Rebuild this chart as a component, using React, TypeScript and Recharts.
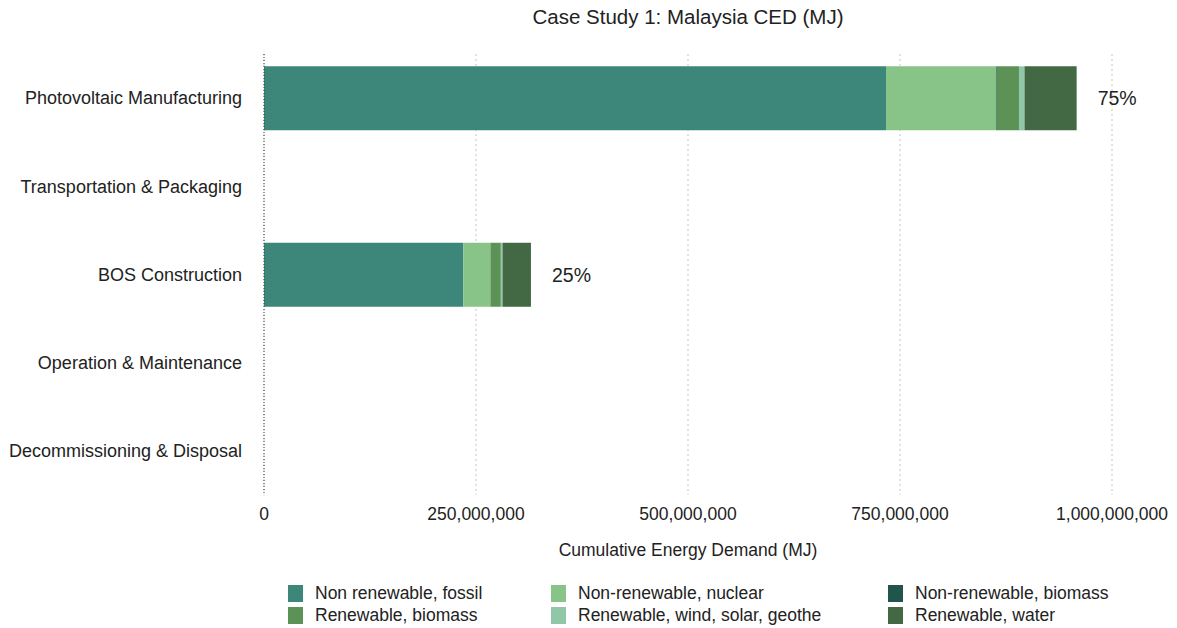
import React from 'react';
import {
    BarChart,
    Bar,
    XAxis,
    YAxis,
    CartesianGrid,
    LabelList
} from 'recharts';

const categories = [
    'Photovoltaic Manufacturing',
    'Transportation & Packaging',
    'BOS Construction',
    'Operation & Maintenance',
    'Decommissioning & Disposal'
];

const fossil = [733500000, 0, 235000000, 0, 0];
const nuclear = [130000000, 0, 32000000, 0, 0];
const nrBiomass = [800000, 0, 300000, 0, 0];
const rBiomass = [26000000, 0, 12000000, 0, 0];
const windSolarGeo = [6500000, 0, 2000000, 0, 0];
const water = [61500000, 0, 33500000, 0, 0];
const shares = ['75%', '', '25%', '', ''];

const xTicks = [0, 250000000, 500000000, 750000000, 1000000000];

const series = [
    { key: 'fossil', name: 'Non renewable, fossil', color: '#3c877a', values: fossil },
    { key: 'nuclear', name: 'Non-renewable, nuclear', color: '#88c388', values: nuclear },
    { key: 'nrBiomass', name: 'Non-renewable, biomass', color: '#21544b', values: nrBiomass },
    { key: 'rBiomass', name: 'Renewable, biomass', color: '#5d9256', values: rBiomass },
    { key: 'wind', name: 'Renewable, wind, solar, geothe', color: '#90c7a9', values: windSolarGeo },
    { key: 'water', name: 'Renewable, water', color: '#426844', values: water }
];

const data = categories.map((name, i) => {
    const row: Record<string, string | number> = { name, share: shares[i] };
    series.forEach(s => { row[s.key] = s.values[i]; });
    return row;
});

const font = '"Liberation Sans", Arial, Helvetica, sans-serif';

const App: React.FC = () => {
    return (
        <div style={{ position: 'relative', width: 1177, height: 628, fontFamily: font, background: '#fff' }}>
            <style>{`body{margin:0}`}</style>
            <div style={{ position: 'absolute', left: 264, width: 848, top: 5, textAlign: 'center', fontSize: 20.5, color: '#222' }}>
                Case Study 1: Malaysia CED (MJ)
            </div>
            <BarChart
                layout="vertical"
                width={1177}
                height={628}
                data={data}
                barCategoryGap="14%"
                margin={{ top: 54, right: 65, bottom: 0, left: 0 }}
                style={{ fontFamily: font }}
            >
                <CartesianGrid horizontal={false} stroke="#c4c4c4" strokeDasharray="2 3" />
                <XAxis
                    type="number"
                    domain={[0, 1000000000]}
                    ticks={xTicks}
                    tickFormatter={(v: number) => v.toLocaleString('en-US')}
                    axisLine={false}
                    tickLine={false}
                    tick={{ fontSize: 17.5, fill: '#222' }}
                    tickMargin={7}
                    label={{ value: 'Cumulative Energy Demand (MJ)', position: 'insideBottom', offset: 72, fontSize: 17.5, fill: '#222' }}
                    height={133}
                />
                <YAxis
                    type="category"
                    dataKey="name"
                    width={264}
                    tickLine={false}
                    axisLine={{ stroke: '#333', strokeDasharray: '1 2' }}
                    tick={{ fontSize: 18, fill: '#222' }}
                    tickSize={0}
                    tickMargin={22}
                />
                {series.map((s, idx) => (
                    <Bar key={s.key} dataKey={s.key} name={s.name} stackId="a" fill={s.color} isAnimationActive={false}>
                        {idx === series.length - 1 && (
                            <LabelList dataKey="share" position="right" offset={21} fontSize={19.5} fill="#222" />
                        )}
                    </Bar>
                ))}
            </BarChart>
            <div style={{ position: 'absolute', top: 582, left: 0, width: 1177, fontSize: 17.5, color: '#222' }}>
                {series.map((s, i) => {
                    const colX = [288, 551, 888][i % 3];
                    const rowY = Math.floor(i / 3) * 22;
                    return (
                        <div key={s.key} style={{ position: 'absolute', left: colX, top: rowY, height: 22, display: 'flex', alignItems: 'center', whiteSpace: 'nowrap' }}>
                            <span style={{ display: 'inline-block', width: 15, height: 17, background: s.color, marginRight: 12 }} />
                            <span>{s.name}</span>
                        </div>
                    );
                })}
            </div>
        </div>
    );
};

export default App;
